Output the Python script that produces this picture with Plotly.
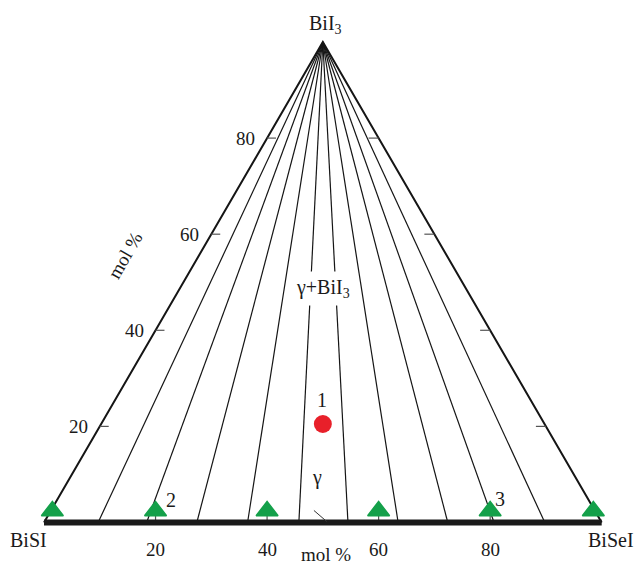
import plotly.graph_objects as go

# ---------------- data (mol %) ----------------
tick_values = [20, 40, 60, 80]
tick_labels = ["20", "40", "60", "80"]
# base end points (mol % BiSeI) of the tie-lines radiating from BiI3
tie_line_bisei = [9.7, 18.4, 27.4, 36.5, 45.7, 54.5, 63.5, 72.4, 80.7, 89.8]
# green triangle samples on the BiSI-BiSeI section (mol % BiSeI)
sample_bisei = [1.5, 20, 40, 60, 80, 98.5]
sample_bii3 = [2.4, 2.4, 2.4, 2.4, 2.4, 2.4]
# red point 1
point1_bisei = [39.75]
point1_bii3 = [20.5]


def tern(bisei, bii3):
    """ternary composition -> cartesian (x along BiSI->BiSeI, y toward BiI3)"""
    return bisei + bii3 / 2.0, bii3


FONT = "Liberation Serif, Times New Roman, serif"
LINE = "#151515"

fig = go.Figure()

# tie lines from BiI3 corner
tx, ty = [], []
for v in tie_line_bisei:
    x0, y0 = tern(0, 100)
    x1, y1 = tern(v, 0)
    tx += [x0, x1, None]
    ty += [y0, y1, None]
fig.add_trace(go.Scatter(x=tx, y=ty, mode="lines",
                         line=dict(color=LINE, width=1.2), hoverinfo="skip"))

# triangle sides
ex, ey = [], []
for (b, a) in [(0, 0), (0, 100), (100, 0)]:
    x, y = tern(b, a)
    ex.append(x)
    ey.append(y)
fig.add_trace(go.Scatter(x=ex, y=ey, mode="lines",
                         line=dict(color=LINE, width=2), hoverinfo="skip"))

# edge ticks
kx, ky = [], []
for v in tick_values:
    x, y = tern(0, v)
    kx += [x, x + 1.6, None]
    ky += [y, y, None]
    x, y = tern(100 - v, v)
    kx += [x, x - 1.8, None]
    ky += [y, y, None]
    x, y = tern(v, 0)
    kx += [x, x, None]
    ky += [y, y + 2.0, None]
fig.add_trace(go.Scatter(x=kx, y=ky, mode="lines",
                         line=dict(color="#555555", width=1.2), hoverinfo="skip"))

# thick base BiSI - BiSeI
bx0, by0 = tern(0, 0)
bx1, by1 = tern(100, 0)
fig.add_trace(go.Scatter(x=[bx0, bx1], y=[by0, by1], mode="lines",
                         line=dict(color="#1a1a1a", width=6), hoverinfo="skip"))

# green triangles
fig.add_trace(go.Scatter(x=sample_bisei, y=sample_bii3, mode="markers",
                         marker=dict(symbol="triangle-up", size=19, color="#14a04a",
                                     line=dict(color="#14a04a", width=1.5)),
                         hoverinfo="skip"))

# red point
px, py = tern(point1_bisei[0], point1_bii3[0])
fig.add_trace(go.Scatter(x=[px], y=[py], mode="markers",
                         marker=dict(symbol="circle", size=18, color="#e8202a"),
                         hoverinfo="skip"))

ann = []


def A(text, x, y, size=20, **kw):
    d = dict(text=text, x=x, y=y, xref="x", yref="y", showarrow=False,
             font=dict(family=FONT, size=size, color="#1a1a1a"))
    d.update(kw)
    ann.append(d)


# corner labels
A("BiI<sub>3</sub>", 50.5, 103.6)
A("BiSI", -2.8, -3.6)
A("BiSeI", 101.7, -3.6)

# tick labels
for v, t in zip(tick_values, tick_labels):
    x, y = tern(0, v)
    A(t, x, y, size=19, xanchor="right", xshift=-10)
    bx, _ = tern(v, 0)
    A(t, bx, -5.7, size=19)

A("mol %", 14.5, 55.6, size=19, textangle=-60)
A("mol %", 50.6, -6.6, size=19)

A("γ+BiI<sub>3</sub>", 50.0, 48.8, bgcolor="white", borderpad=4)
A("1", 49.9, 25.5)
A("γ", 49.0, 9.3)
A("2", 22.8, 4.7)
A("3", 81.8, 4.9)

fig.update_layout(
    width=636, height=563,
    margin=dict(l=0, r=0, t=0, b=0),
    paper_bgcolor="white", plot_bgcolor="white",
    showlegend=False,
    xaxis=dict(range=[-7.89, 106.15], visible=False, fixedrange=True),
    yaxis=dict(range=[-8.43, 108.74], visible=False, fixedrange=True),
    annotations=ann,
    shapes=[dict(type="line", xref="x", yref="y", x0=48.4, y0=2.5, x1=50.7, y1=0.2,
                 line=dict(color="#333333", width=1))],
)

fig.write_html("out.html",
               config={"displayModeBar": False, "staticPlot": True},
               post_script="document.body.style.margin='0';document.body.style.overflow='hidden';")
